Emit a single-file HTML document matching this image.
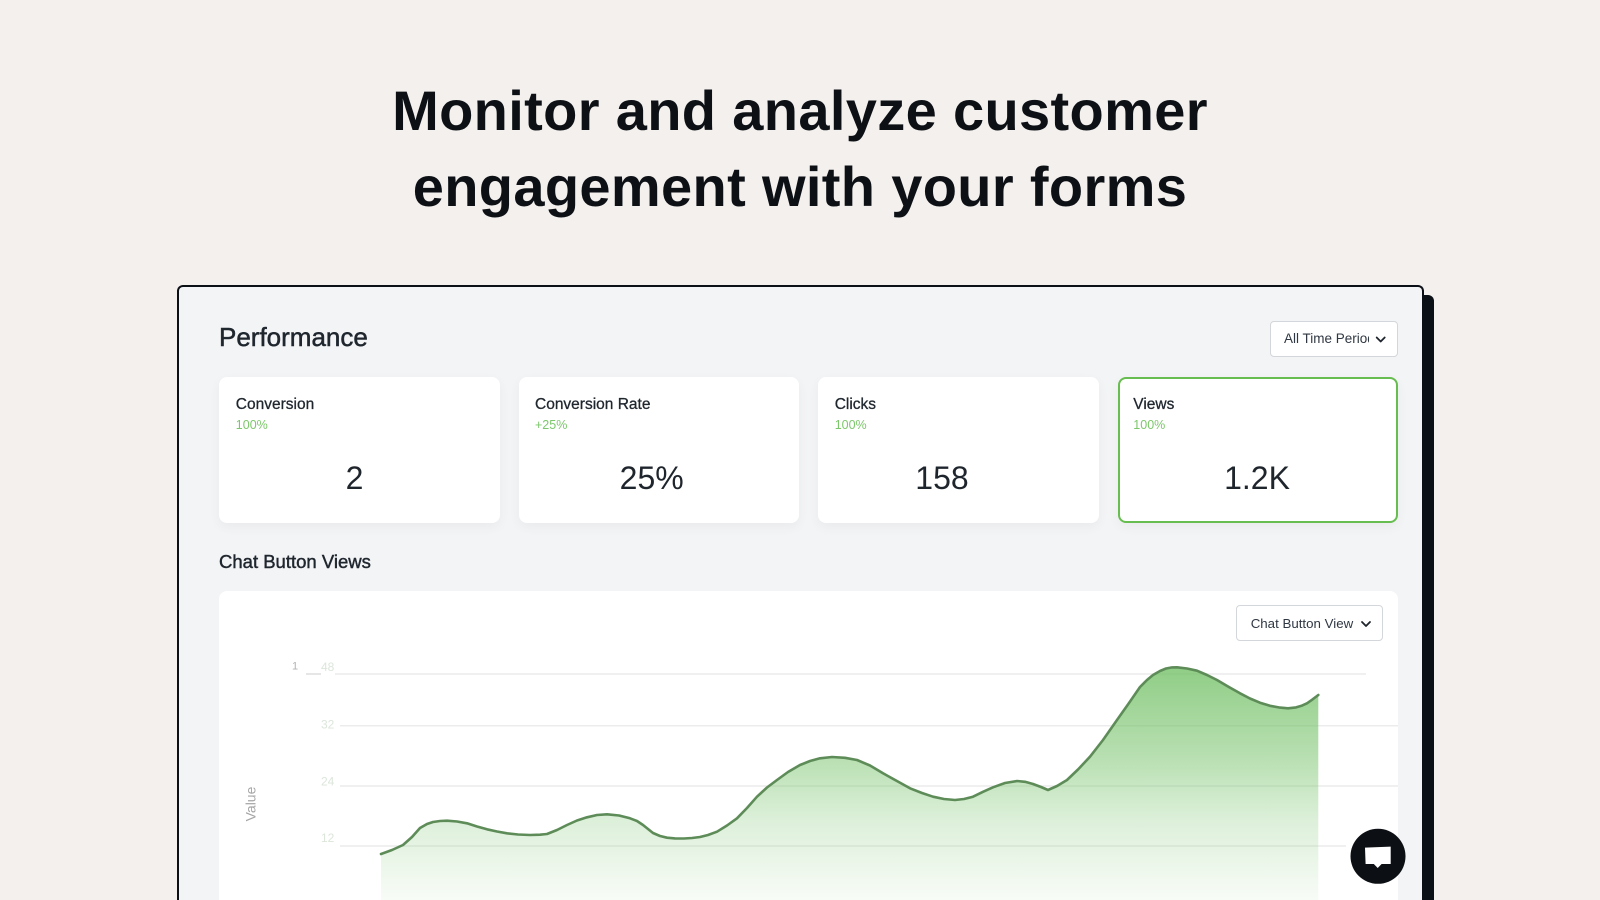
<!DOCTYPE html>
<html>
<head>
<meta charset="utf-8">
<style>
  html,body{margin:0;padding:0;width:1600px;height:900px;overflow:hidden;}
  body{background:#f3f0ed;font-family:"Liberation Sans",sans-serif;color:#1e252d;}
  #root{position:relative;width:1600px;height:900px;overflow:hidden;background:#f3f0ed;}
  .abs{position:absolute;}
  .headline{left:0;width:1600px;top:73.3px;text-align:center;font-weight:bold;font-size:56px;line-height:76px;letter-spacing:0.35px;color:#0d1116;}
  .panel{left:177px;top:285px;width:1243px;height:613px;background:#f3f4f6;border:2px solid #0b1016;border-bottom:none;border-radius:6px 6px 0 0;box-shadow:10px 10px 0 #0b1016;}
  .perf{left:219px;top:324px;font-size:26px;line-height:26px;color:#1f262e;-webkit-text-stroke:0.5px #1f262e;white-space:nowrap;}
  .dd{background:#fff;border:1px solid #d3d6da;border-radius:4px;box-sizing:border-box;}
  .card{top:376.5px;width:280.5px;height:146px;background:#fff;border-radius:8px;box-shadow:0 4px 12px rgba(0,0,0,0.045);box-sizing:border-box;}
  .lbl{font-size:15.5px;line-height:15.5px;color:#1f262e;-webkit-text-stroke:0.3px #1f262e;white-space:nowrap;}
  .pct{font-size:12.5px;line-height:12.5px;color:#7cc76b;white-space:nowrap;}
  .val{top:462.2px;font-size:32px;line-height:32px;color:#1f252c;transform:translateX(-50%);white-space:nowrap;}
  .sub{left:219px;top:552.6px;font-size:18.5px;line-height:18.5px;color:#1f262e;-webkit-text-stroke:0.45px #1f262e;white-space:nowrap;}
  .chart{left:219px;top:591px;width:1179px;height:309px;background:#fff;border-radius:8px 8px 0 0;}
</style>
</head>
<body>
<div id="root">

<div class="abs headline">Monitor and analyze customer<br>engagement with your forms</div>

<div class="abs panel"></div>

<div class="abs perf">Performance</div>

<!-- All time dropdown -->
<div class="abs dd" style="left:1270px;top:321px;width:128px;height:36px;"></div>
<div class="abs" style="left:1284px;top:331.5px;width:85px;height:18px;overflow:hidden;font-size:13.5px;line-height:13.5px;color:#2f3742;white-space:nowrap;">All Time Period</div>
<svg class="abs" style="left:0;top:0;" width="1600" height="900">
  <polyline points="1376.7,337.5 1380.7,341.5 1384.7,337.5" fill="none" stroke="#1f252c" stroke-width="1.8" stroke-linecap="round" stroke-linejoin="round"/>
</svg>

<!-- Cards -->
<div class="abs card" style="left:219px;"></div>
<div class="abs card" style="left:518.5px;"></div>
<div class="abs card" style="left:818.3px;"></div>
<div class="abs card" style="left:1117.5px;border:2px solid #68bd50;"></div>

<div class="abs lbl" style="left:235.8px;top:396.9px;">Conversion</div>
<div class="abs pct" style="left:235.8px;top:418.7px;">100%</div>
<div class="abs val" style="left:354.5px;">2</div>

<div class="abs lbl" style="left:535px;top:396.9px;">Conversion Rate</div>
<div class="abs pct" style="left:535px;top:418.7px;">+25%</div>
<div class="abs val" style="left:651.7px;">25%</div>

<div class="abs lbl" style="left:834.7px;top:396.9px;">Clicks</div>
<div class="abs pct" style="left:834.7px;top:418.7px;">100%</div>
<div class="abs val" style="left:942px;">158</div>

<div class="abs lbl" style="left:1133.3px;top:396.9px;">Views</div>
<div class="abs pct" style="left:1133.3px;top:418.7px;">100%</div>
<div class="abs val" style="left:1257px;">1.2K</div>

<div class="abs sub">Chat Button Views</div>

<div class="abs chart"></div>

<svg class="abs" style="left:0;top:0;" width="1600" height="900">
  <defs>
    <linearGradient id="g" gradientUnits="userSpaceOnUse" x1="0" y1="665" x2="0" y2="900">
      <stop offset="0" stop-color="#6fbf62" stop-opacity="0.78"/>
      <stop offset="0.4" stop-color="#6fbf62" stop-opacity="0.49"/>
      <stop offset="0.66" stop-color="#6fbf62" stop-opacity="0.24"/>
      <stop offset="1" stop-color="#6fbf62" stop-opacity="0.05"/>
    </linearGradient>
  </defs>
  <!-- gridlines -->
  <line x1="306" y1="674" x2="321" y2="674" stroke="#d6d6d6" stroke-width="1.2"/>
  <line x1="335" y1="674" x2="1366" y2="674" stroke="#ececec" stroke-width="1.5"/>
  <line x1="340" y1="725.7" x2="1398" y2="725.7" stroke="#ececec" stroke-width="1.5"/>
  <line x1="340" y1="786" x2="1398" y2="786" stroke="#ececec" stroke-width="1.5"/>
  <line x1="340" y1="846" x2="1346" y2="846" stroke="#ececec" stroke-width="1.5"/>
  <!-- axis labels -->
  <g font-family="Liberation Sans, sans-serif" font-size="12" fill="#dce6db">
    <text x="321" y="671">48</text>
    <text x="321" y="728.3">32</text>
    <text x="321" y="785.3">24</text>
    <text x="321" y="842">12</text>
  </g>
  <text x="292" y="669.7" font-family="Liberation Sans, sans-serif" font-size="11" fill="#b3b3b3">1</text>
  <text transform="translate(255.7,804) rotate(-90)" text-anchor="middle" font-family="Liberation Sans, sans-serif" font-size="14" fill="#a6a6a6">Value</text>

  <!-- area -->
  <polygon fill="url(#g)" points="381,854 392,850 403,845 412,837 420,828 427,824 433,822 440,821 447,820.7 457,821.5 467,823.3 477,826.5 487,829.3 497,831.5 507,833.3 518,834.5 530,835 540,834.7 547,834 557,830 567,825 577,820.5 587,817.3 597,815 607,814.3 619,815.5 630,818.3 637,821 643,825 648,829 653,833 660,836 667,837.7 675,838.4 684,838.5 692,838 700,837 708,835 717,831.7 727,825.5 737,818.3 747,808 757,796.7 767,787.5 777,780 788,772 800,765 810,761 820,758.3 832,757 845,757.8 857,760 870,765.5 883,773.3 896,780.5 910,788.3 922,793 933,796.7 944,799 955,800 964,799 973,796.7 983,791.8 993,787.3 1005,783 1017,781 1025,781.8 1033,784 1041,787 1048,790 1057,786 1067,780 1078,769.5 1090,756.7 1103,740 1117,720 1129,703 1140,687 1147,680 1153,675 1160,671 1166,668.5 1172,667.4 1177,667.3 1187,668.5 1197,670.7 1207,675 1217,680 1228,686.5 1240,693.3 1250,698.5 1260,702.7 1270,705.8 1280,707.6 1288,708.3 1296,707.4 1302,705.6 1307,703.3 1312,699.8 1318.3,695 1318.3,900 381,900"/>
  <!-- line -->
  <polyline fill="none" stroke="#5e8c58" stroke-width="2.6" stroke-linejoin="round" stroke-linecap="round" points="381,854 392,850 403,845 412,837 420,828 427,824 433,822 440,821 447,820.7 457,821.5 467,823.3 477,826.5 487,829.3 497,831.5 507,833.3 518,834.5 530,835 540,834.7 547,834 557,830 567,825 577,820.5 587,817.3 597,815 607,814.3 619,815.5 630,818.3 637,821 643,825 648,829 653,833 660,836 667,837.7 675,838.4 684,838.5 692,838 700,837 708,835 717,831.7 727,825.5 737,818.3 747,808 757,796.7 767,787.5 777,780 788,772 800,765 810,761 820,758.3 832,757 845,757.8 857,760 870,765.5 883,773.3 896,780.5 910,788.3 922,793 933,796.7 944,799 955,800 964,799 973,796.7 983,791.8 993,787.3 1005,783 1017,781 1025,781.8 1033,784 1041,787 1048,790 1057,786 1067,780 1078,769.5 1090,756.7 1103,740 1117,720 1129,703 1140,687 1147,680 1153,675 1160,671 1166,668.5 1172,667.4 1177,667.3 1187,668.5 1197,670.7 1207,675 1217,680 1228,686.5 1240,693.3 1250,698.5 1260,702.7 1270,705.8 1280,707.6 1288,708.3 1296,707.4 1302,705.6 1307,703.3 1312,699.8 1318.3,695"/>

  <!-- chat bubble button -->
  <circle cx="1378" cy="856.3" r="27.5" fill="#0c1014"/>
  <path d="M1365,847.6 L1390.7,846.6 L1390.7,864 L1381.6,864 L1377.7,868 L1373.8,864 L1365.6,864 Z" fill="#ffffff"/>

  <!-- chat dropdown chevron -->
  <polyline points="1362,622 1366,626 1370,622" fill="none" stroke="#1f252c" stroke-width="1.8" stroke-linecap="round" stroke-linejoin="round"/>
</svg>

<div class="abs dd" style="left:1236px;top:605px;width:147px;height:36px;background:transparent;"></div>
<div class="abs" style="left:1250.7px;top:616.8px;font-size:13.3px;line-height:13.3px;color:#2f3742;white-space:nowrap;">Chat Button View</div>

</div>
</body>
</html>
